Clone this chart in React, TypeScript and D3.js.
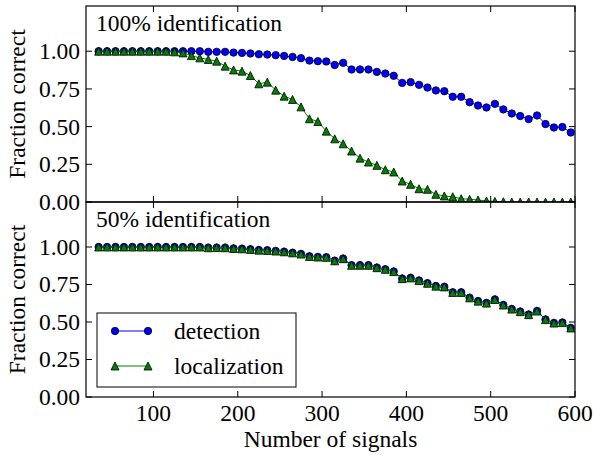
import React from "react";
import * as d3 from "d3";

// number of signals (x positions of every point)
const signals = [
  35, 45, 55, 65, 75, 85, 95, 105, 115, 125, 135, 145, 155, 165, 175, 185, 195,
  205, 215, 225, 235, 245, 255, 265, 275, 285, 295, 305, 315, 325, 335, 345,
  355, 365, 375, 385, 395, 405, 415, 425, 435, 445, 455, 465, 475, 485, 495,
  505, 515, 525, 535, 545, 555, 565, 575, 585, 595,
];

// 100% identification
const detection100 = [
  1, 1, 1, 1, 1, 1, 1, 1, 1, 1, 1, 1, 1, 0.996, 0.996, 0.996, 0.991, 0.989,
  0.985, 0.98, 0.978, 0.974, 0.969, 0.962, 0.954, 0.938, 0.934, 0.932, 0.909,
  0.923, 0.879, 0.879, 0.879, 0.863, 0.852, 0.837, 0.79, 0.795, 0.777, 0.759,
  0.74, 0.735, 0.698, 0.698, 0.662, 0.64, 0.627, 0.651, 0.614, 0.587, 0.57,
  0.55, 0.574, 0.517, 0.494, 0.497, 0.461,
];
const localization100 = [
  1, 1, 1, 1, 1, 1, 1, 1, 1, 0.996, 0.989, 0.971, 0.956, 0.945, 0.934, 0.901,
  0.876, 0.868, 0.839, 0.784, 0.795, 0.742, 0.702, 0.68, 0.631, 0.552, 0.534,
  0.47, 0.419, 0.386, 0.338, 0.291, 0.265, 0.243, 0.214, 0.199, 0.139, 0.117,
  0.088, 0.084, 0.051, 0.04, 0.035, 0.022, 0.018, 0.013, 0.007, 0.004, 0.002,
  0, 0, 0, 0, 0, 0, 0, 0,
];

// 50% identification
const detection50 = [
  1, 1, 1, 1, 1, 1, 1, 1, 1, 1, 1, 1, 1, 0.996, 0.996, 0.996, 0.991, 0.989,
  0.985, 0.98, 0.978, 0.974, 0.969, 0.962, 0.954, 0.938, 0.934, 0.932, 0.909,
  0.923, 0.879, 0.879, 0.879, 0.863, 0.852, 0.837, 0.79, 0.795, 0.777, 0.759,
  0.74, 0.735, 0.698, 0.698, 0.662, 0.64, 0.627, 0.651, 0.614, 0.587, 0.57,
  0.55, 0.574, 0.517, 0.494, 0.497, 0.461,
];
const localization50 = [
  1, 1, 1, 1, 1, 1, 1, 1, 1, 1, 1, 1, 1, 0.995, 0.996, 0.995, 0.99, 0.988,
  0.984, 0.979, 0.977, 0.973, 0.968, 0.961, 0.953, 0.937, 0.933, 0.931, 0.908,
  0.922, 0.878, 0.878, 0.878, 0.862, 0.851, 0.836, 0.789, 0.794, 0.776, 0.758,
  0.739, 0.734, 0.697, 0.697, 0.661, 0.639, 0.626, 0.65, 0.613, 0.586, 0.569,
  0.549, 0.573, 0.516, 0.493, 0.496, 0.46,
];

const xTicks = [100, 200, 300, 400, 500, 600];
const yTicks = [0, 0.25, 0.5, 0.75, 1.0];
const panelTitles = ["100% identification", "50% identification"];
const seriesNames = ["detection", "localization"];

const W = 595;
const H = 455;
const left = 86;
const right = 575;
const panels = [
  { top: 6, bottom: 202, det: detection100, loc: localization100 },
  { top: 202, bottom: 397, det: detection50, loc: localization50 },
];
const txt: React.CSSProperties = {
  fontFamily: "'Liberation Serif', 'Times New Roman', serif",
  fontSize: 23.5,
};
const blue = "#0000ff";
const green = "#008000";
const tick = 6;

const x = d3.scaleLinear().domain([20, 600]).range([left, right]);

// matplotlib-like "^" marker, centred on its bounding box
const tri = (s: number) => `M0,${-s}L${s},${s}L${-s},${s}Z`;

const Markers = ({ pts, kind }: { pts: [number, number][]; kind: string }) => (
  <g>
    {pts.map(([px, py], i) =>
      kind === "o" ? (
        <circle key={i} cx={px} cy={py} r={3.7} fill={blue} stroke="#000" strokeWidth={0.8} />
      ) : (
        <path key={i} d={tri(4)} transform={`translate(${px},${py})`} fill={green} stroke="#000" strokeWidth={0.8} />
      )
    )}
  </g>
);

const Panel = ({ idx }: { idx: number }) => {
  const p = panels[idx];
  const y = d3.scaleLinear().domain([0, 1.3]).range([p.bottom, p.top]);
  const ln = d3
    .line<number>()
    .x((_, i) => x(signals[i]))
    .y((d) => y(d));
  const detPts = p.det.map((v, i) => [x(signals[i]), y(v)] as [number, number]);
  const locPts = p.loc.map((v, i) => [x(signals[i]), y(v)] as [number, number]);
  const clip = `clip${idx}`;
  return (
    <g>
      <defs>
        <clipPath id={clip}>
          <rect x={left} y={p.top} width={right - left} height={p.bottom - p.top} />
        </clipPath>
      </defs>
      <g clipPath={`url(#${clip})`}>
        <path d={ln(p.det) ?? ""} fill="none" stroke={blue} strokeWidth={1} />
        <Markers pts={detPts} kind="o" />
        <path d={ln(p.loc) ?? ""} fill="none" stroke={green} strokeWidth={1} />
        <Markers pts={locPts} kind="^" />
      </g>
      {/* ticks, inward on all sides */}
      {yTicks.map((t) => (
        <g key={t}>
          <line x1={left} x2={left + tick} y1={y(t)} y2={y(t)} stroke="#000" />
          <line x1={right} x2={right - tick} y1={y(t)} y2={y(t)} stroke="#000" />
          <text x={left - 6} y={y(t)} dy="0.34em" textAnchor="end" style={txt}>
            {d3.format(".2f")(t)}
          </text>
        </g>
      ))}
      {xTicks.map((t) => (
        <g key={t}>
          <line x1={x(t)} x2={x(t)} y1={p.bottom} y2={p.bottom - tick} stroke="#000" />
          <line x1={x(t)} x2={x(t)} y1={p.top} y2={p.top + tick} stroke="#000" />
        </g>
      ))}
      <rect x={left} y={p.top} width={right - left} height={p.bottom - p.top} fill="none" stroke="#000" strokeWidth={1.2} />
      <text x={96} y={p.top + 25} style={txt}>
        {panelTitles[idx]}
      </text>
      <text
        transform={`translate(25,${(p.top + p.bottom) / 2}) rotate(-90)`}
        textAnchor="middle"
        style={txt}
      >
        Fraction correct
      </text>
    </g>
  );
};

const Legend = () => {
  const rows = [331, 366];
  return (
    <g>
      <rect x={97} y={313} width={199} height={74} fill="#fff" stroke="#000" strokeWidth={1} />
      {seriesNames.map((name, i) => {
        const cy = rows[i];
        const col = i === 0 ? blue : green;
        const pts: [number, number][] = [
          [115, cy],
          [148, cy],
        ];
        return (
          <g key={name}>
            <line x1={115} x2={148} y1={cy} y2={cy} stroke={col} strokeWidth={1} />
            <Markers pts={pts} kind={i === 0 ? "o" : "^"} />
            <text x={174} y={cy} dy="0.33em" style={txt}>
              {name}
            </text>
          </g>
        );
      })}
    </g>
  );
};

export default function App() {
  return (
    <svg width={W} height={H} style={{ position: "absolute", left: 0, top: 0, background: "#fff" }}>
      <rect width={W} height={H} fill="#fff" />
      <Panel idx={0} />
      <Panel idx={1} />
      <Legend />
      {xTicks.map((t) => (
        <text key={t} x={x(t)} y={421} textAnchor="middle" style={txt}>
          {t}
        </text>
      ))}
      <text x={(left + right) / 2} y={447} textAnchor="middle" style={txt}>
        Number of signals
      </text>
    </svg>
  );
}
